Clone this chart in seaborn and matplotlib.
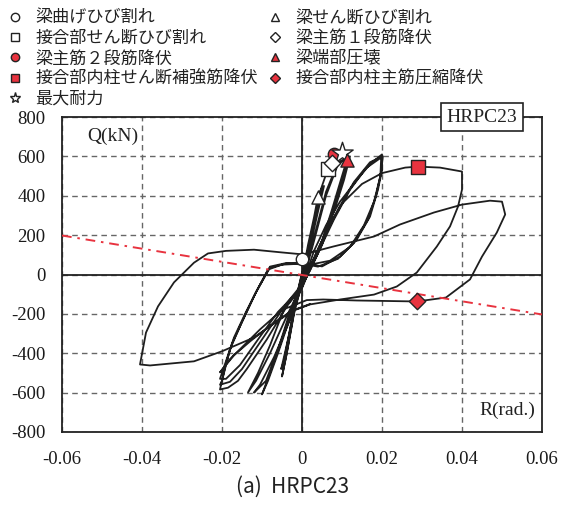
import matplotlib
matplotlib.use("Agg")
import matplotlib.pyplot as plt
import seaborn as sns
import pandas as pd
from matplotlib.lines import Line2D
from matplotlib.font_manager import FontProperties

# ---------------- data ----------------
hyst_R = [
    0.0, 0.0005, 0.0015, 0.003, 0.004, 0.005, 0.0035, 0.002, 0.0005,
    -0.001, -0.0025, -0.004, -0.005, -0.0038, -0.002, 0.0,
    0.002, 0.0045, 0.0055, 0.004, 0.002, 0.0,
    -0.002, -0.0045, -0.0052, -0.0035, -0.0015, 0.0,
    0.002, 0.0045, 0.0065, 0.008, 0.010, 0.0115, 0.010, 0.0075, 0.005, 0.002, 0.0,
    -0.002, -0.005, -0.008, -0.010, -0.0085, -0.006, -0.003, 0.0,
    0.003, 0.006, 0.009, 0.012, 0.0105, 0.008, 0.005, 0.002, 0.0,
    -0.004, -0.008, -0.011, -0.0135, -0.0115, -0.008, -0.004, 0.0,
    0.003, 0.006, 0.009, 0.0115, 0.010, 0.007, 0.004, 0.0, -0.003,
    -0.006, -0.009, -0.012, -0.0105, -0.007, -0.003, 0.0,
    0.003, 0.006, 0.0095, 0.0137, 0.017, 0.0200, 0.0200, 0.019, 0.017, 0.0137, 0.0095, 0.005, 0.0,
    -0.004, -0.008,
    -0.011, -0.014, -0.017, -0.019, -0.0205, -0.0185, -0.016, -0.0138, -0.0088, -0.0038, 0.0,
    0.004, 0.008, 0.012, 0.016, 0.0202, 0.0198, 0.0185, 0.0165, 0.013, 0.009, 0.004, 0.0,
    -0.005, -0.0085,
    -0.012, -0.015, -0.018, -0.020, -0.0205, -0.018, -0.015, -0.010, -0.005, 0.0,
    0.004, 0.009, 0.013, 0.017, 0.0198, 0.0196, 0.018, 0.0155, 0.012, 0.007, 0.002, -0.004, -0.008,
    -0.0115, -0.0145, -0.0175, -0.0195, -0.0205, -0.019, -0.0155, -0.011, -0.006, 0.0,
    0.003, 0.006, 0.010, 0.015, 0.020, 0.0258, 0.029, 0.0345, 0.040,
    0.040, 0.039, 0.037, 0.0337, 0.0287, 0.0237, 0.018, 0.0095, 0.002,
    -0.003, -0.008, -0.013, -0.017, -0.0205,
    -0.018, -0.0105, -0.005, 0.0012, 0.0053, 0.0137, 0.0287, 0.036, 0.042, 0.045, 0.0487, 0.0508, 0.050,
    0.047, 0.040, 0.033, 0.0245, 0.018, 0.0078, 0.0003,
    -0.005, -0.012, -0.019, -0.0235, -0.027, -0.032, -0.036, -0.039, -0.0405,
    -0.038, -0.027, -0.020, -0.012, -0.0055, -0.002, 0.002,
]
hyst_Q = [
    0, 40, 150, 290, 396, 440, 300, 170, 40,
    -80, -250, -420, -518, -400, -200, -40,
    170, 410, 450, 320, 140, 10,
    -170, -440, -480, -330, -140, -30,
    150, 420, 538, 600, 619, 600, 500, 330, 170, 40, -30,
    -140, -330, -500, -609, -540, -400, -220, -50,
    170, 400, 560, 600, 480, 320, 150, 20, -50,
    -150, -360, -500, -599, -540, -400, -220, -50,
    190, 420, 570, 595, 470, 280, 110, -60, -190,
    -380, -540, -600, -560, -420, -230, -60,
    120, 250, 370, 480, 560, 610, 533, 431, 294, 178, 91, 41, 60,
    58, 40,
    -70, -190, -320, -450, -584, -575, -540, -480, -330, -162, -60,
    110, 280, 430, 540, 600, 520, 400, 280, 160, 80, 40, 55,
    50, 25,
    -110, -240, -380, -540, -560, -545, -480, -330, -180, -70,
    130, 330, 470, 570, 598, 500, 370, 250, 140, 70, 50, 55, 35,
    -90, -220, -350, -470, -530, -530, -460, -330, -190, -65,
    80, 220, 360, 460, 515, 543, 548, 543, 523,
    431, 345, 244, 142, 10, -61, -102, -127, -152,
    -190, -260, -340, -410, -497,
    -430, -279, -180, -130, -127, -132, -137, -117, -25, 91, 213, 305, 370,
    375, 355, 315, 254, 193, 142, 102,
    112, 126, 120, 107, 60, -40, -162, -295, -457,
    -462, -441, -390, -320, -228, -180, -150,
]

pdelta_R = [-0.06, 0.06]
pdelta_Q = [198, -203]

event_labels = ["梁曲げひび割れ", "接合部せん断ひび割れ", "梁主筋２段筋降伏",
                "接合部内柱せん断補強筋降伏", "最大耐力",
                "梁せん断ひび割れ", "梁主筋１段筋降伏", "梁端部圧壊",
                "接合部内柱主筋圧縮降伏"]
event_R = [0.0, 0.0065, 0.008, 0.029, 0.010, 0.004, 0.0075, 0.0112, 0.0287]
event_Q = [81, 538, 614, 548, 619, 396, 568, 584, -137]
event_marker = ["o", "s", "o", "s", "*", "^", "D", "^", "D"]
event_fill = ["white", "white", "#e8333f", "#e8333f", "white",
              "white", "white", "#e8333f", "#e8333f"]

x_ticks = [-0.06, -0.04, -0.02, 0, 0.02, 0.04, 0.06]
x_ticklabels = ["-0.06", "-0.04", "-0.02", "0", "0.02", "0.04", "0.06"]
y_ticks = [-800, -600, -400, -200, 0, 200, 400, 600, 800]
y_ticklabels = ["-800", "-600", "-400", "-200", "0", "200", "400", "600", "800"]

# ---------------- style ----------------
sns.set_theme(style="white")
plt.rcParams["font.family"] = ["Liberation Serif", "DejaVu Serif"]
jp = ["Noto Sans CJK JP", "DejaVu Sans"]

fig = plt.figure(figsize=(5.71, 5.12), dpi=100)
ax = fig.add_axes([62 / 571, 1 - 432 / 512, 480 / 571, 315 / 512])

ax.set_xlim(-0.06, 0.06)
ax.set_ylim(-800, 800)
ax.set_xticks(x_ticks)
ax.set_xticklabels(x_ticklabels)
ax.set_yticks(y_ticks)
ax.set_yticklabels(y_ticklabels)
ax.tick_params(axis="both", length=0, labelsize=13.5, colors="#1a1a1a")
ax.tick_params(axis="y", pad=12)
ax.tick_params(axis="x", pad=14)

ax.grid(True, color="#666666", linestyle=(0, (4, 3)), linewidth=1.0)
ax.set_axisbelow(True)
for s in ax.spines.values():
    s.set_visible(True)
    s.set_color("#222222")
    s.set_linewidth(1.3)

ax.axhline(0, color="#222222", lw=1.3, zorder=1.5)
ax.axvline(0, color="#222222", lw=1.3, zorder=1.5)

df = pd.DataFrame({"R": hyst_R, "Q": hyst_Q})
sns.lineplot(data=df, x="R", y="Q", sort=False, estimator=None, ax=ax,
             color="#1e1e1e", lw=1.3, zorder=3)

dfp = pd.DataFrame({"R": pdelta_R, "Q": pdelta_Q})
sns.lineplot(data=dfp, x="R", y="Q", sort=False, estimator=None, ax=ax,
             color="#e8333f", lw=1.4, zorder=4)
ax.lines[-1].set_dashes((5, 3, 1.3, 3))

sizes = {"o": 80, "s": 90, "*": 260, "^": 90, "D": 70}
for r, q, m, f in zip(event_R, event_Q, event_marker, event_fill):
    sns.scatterplot(x=[r], y=[q], marker=m, s=sizes[m], color=f,
                    edgecolor="#222222", linewidth=1.0, ax=ax, zorder=6)

ax.set_xlabel("")
ax.set_ylabel("")

ax.text((87 - 62) / 480, (432 - 136) / 315, "Q(kN)", transform=ax.transAxes,
        fontsize=14, va="center", ha="left", color="#222222")
ax.text((535 - 62) / 480, (432 - 410) / 315, "R(rad.)", transform=ax.transAxes,
        fontsize=14, va="center", ha="right", color="#222222")
ax.text((482 - 62) / 480, 1.0, "HRPC23", transform=ax.transAxes,
        fontsize=14, va="center", ha="center", color="#222222", zorder=10,
        bbox=dict(boxstyle="square,pad=0.28", fc="white", ec="#222222", lw=1.2))

fig.text(293 / 571, 1 - 487 / 512, "(a)  HRPC23", family=jp, fontsize=15,
         ha="center", va="center", color="#222222")

handles = []
for m, f in zip(event_marker, event_fill):
    ms = 8 if m == "*" else 6
    if m == "D":
        ms = 5
    handles.append(Line2D([], [], linestyle="none", marker=m, markersize=ms,
                          markerfacecolor=f, markeredgecolor="#222222",
                          markeredgewidth=1.0))
fig.legend(handles, event_labels, ncol=2, loc="upper left",
           bbox_to_anchor=(8 / 571, 1 - 9 / 512), frameon=False,
           prop=FontProperties(family=jp, size=12.3), handlelength=0.8,
           handletextpad=0.8, borderpad=0, borderaxespad=0,
           columnspacing=0.6, labelspacing=0.13, labelcolor="#222222")

fig.savefig("out.png", dpi=100)
